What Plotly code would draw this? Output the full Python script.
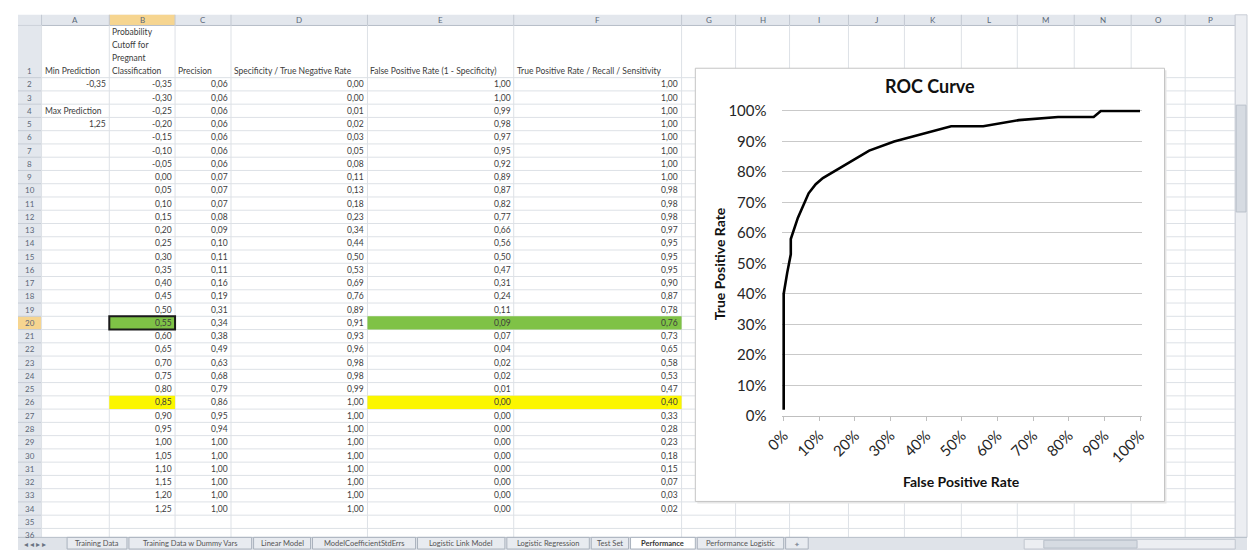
import plotly.graph_objects as go

W, H = 1252, 558

# ---------------- data ----------------
min_prediction = -0.35
max_prediction = 1.25

cutoffs = [-0.35, -0.30, -0.25, -0.20, -0.15, -0.10, -0.05, 0.00, 0.05, 0.10,
           0.15, 0.20, 0.25, 0.30, 0.35, 0.40, 0.45, 0.50, 0.55, 0.60,
           0.65, 0.70, 0.75, 0.80, 0.85, 0.90, 0.95, 1.00, 1.05, 1.10,
           1.15, 1.20, 1.25]
precision = [0.06, 0.06, 0.06, 0.06, 0.06, 0.06, 0.06, 0.07, 0.07, 0.07,
             0.08, 0.09, 0.10, 0.11, 0.11, 0.16, 0.19, 0.31, 0.34, 0.38,
             0.49, 0.63, 0.68, 0.79, 0.86, 0.95, 0.94, 1.00, 1.00, 1.00,
             1.00, 1.00, 1.00]
specificity = [0.00, 0.00, 0.01, 0.02, 0.03, 0.05, 0.08, 0.11, 0.13, 0.18,
               0.23, 0.34, 0.44, 0.50, 0.53, 0.69, 0.76, 0.89, 0.91, 0.93,
               0.96, 0.98, 0.98, 0.99, 1.00, 1.00, 1.00, 1.00, 1.00, 1.00,
               1.00, 1.00, 1.00]
fpr = [1.00, 1.00, 0.99, 0.98, 0.97, 0.95, 0.92, 0.89, 0.87, 0.82,
       0.77, 0.66, 0.56, 0.50, 0.47, 0.31, 0.24, 0.11, 0.09, 0.07,
       0.04, 0.02, 0.02, 0.01, 0.00, 0.00, 0.00, 0.00, 0.00, 0.00,
       0.00, 0.00, 0.00]
tpr = [1.00, 1.00, 1.00, 1.00, 1.00, 1.00, 1.00, 1.00, 0.98, 0.98,
       0.98, 0.97, 0.95, 0.95, 0.95, 0.90, 0.87, 0.78, 0.76, 0.73,
       0.65, 0.58, 0.53, 0.47, 0.40, 0.33, 0.28, 0.23, 0.18, 0.15,
       0.07, 0.03, 0.02]

green_cutoff = 0.55
yellow_cutoff = 0.85

col_letters = ["A", "B", "C", "D", "E", "F", "G", "H", "I", "J", "K", "L", "M", "N", "O", "P"]
header_a = "Min Prediction"
header_a2 = "Max Prediction"
header_b_lines = ["Probability", "Cutoff for", "Pregnant", "Classification"]
header_c = "Precision"
header_d = "Specificity / True Negative Rate"
header_e = "False Positive Rate (1 - Specificity)"
header_f = "True Positive Rate / Recall / Sensitivity"

chart_title = "ROC Curve"
x_title = "False Positive Rate"
y_title = "True Positive Rate"

sheet_tabs = ["Training Data", "Training Data w Dummy Vars", "Linear Model",
              "ModelCoefficientStdErrs", "Logistic Link Model", "Logistic Regression",
              "Test Set", "Performance", "Performance Logistic"]
active_tab = "Performance"

# ---------------- layout geometry (pixels) ----------------
col_edges = [24, 93, 160, 217, 356, 505, 676, 731, 786, 846, 903, 961, 1018, 1076, 1134, 1189, 1240]
tab_edges = [(50, 111), (113, 238), (240, 298), (300, 405), (407, 496), (498, 582),
             (584, 622), (624, 690), (692, 780)]
HDR_TOP, HDR_BOT = 7, 18
ROW1_BOT = 71.7
ROW_H = 13.65
TAB_TOP = 545
GRID_RIGHT = 1240

FONT = "Lato"
TXT = "#3c3c3c"
GRID = "#dde1e6"


def X(x):
    return x / W


def Y(y):
    return 1 - y / H


def row_top(k):
    return ROW1_BOT + (k - 2) * ROW_H


def row_mid(k):
    return row_top(k) + ROW_H / 2


shapes = []
annotations = []


def rect(x0, y0, x1, y1, fill, line=None, lw=0):
    shapes.append(dict(type="rect", xref="paper", yref="paper",
                       x0=X(x0), x1=X(x1), y0=Y(y1), y1=Y(y0),
                       fillcolor=fill, line=dict(color=line if line else fill, width=lw),
                       layer="below"))


def seg(x0, y0, x1, y1, color, lw=1):
    shapes.append(dict(type="line", xref="paper", yref="paper",
                       x0=X(x0), x1=X(x1), y0=Y(y0), y1=Y(y1),
                       line=dict(color=color, width=lw), layer="below"))


def txt(x, y, s, size=8.5, color=TXT, xa="left", ya="middle", bold=False, angle=0):
    annotations.append(dict(x=X(x), y=Y(y), xref="paper", yref="paper",
                            text=f"<b>{s}</b>" if bold else s, showarrow=False,
                            xanchor=xa, yanchor=ya, textangle=angle, borderpad=0,
                            font=dict(family=FONT, size=size, color=color)))


def fmt(v):
    return f"{v:.2f}".replace(".", ",")


# background
rect(0, 0, W, H, "white")
# column header bar
rect(0, HDR_TOP, GRID_RIGHT, HDR_BOT, "#e3e7ed")
rect(col_edges[1], HDR_TOP, col_edges[2], HDR_BOT, "#f6d590")
seg(0, HDR_BOT, GRID_RIGHT, HDR_BOT, "#b7bec8")
for xe in col_edges:
    seg(xe, HDR_TOP, xe, HDR_BOT, "#c3c9d2")
# row header column
rect(0, HDR_BOT, col_edges[0], TAB_TOP, "#e3e7ed")
green_row = cutoffs.index(green_cutoff) + 2
yellow_row = cutoffs.index(yellow_cutoff) + 2
rect(0, row_top(green_row), col_edges[0], row_top(green_row + 1), "#f6d590")

# grid lines
for k in range(2, 37):
    y = row_top(k)
    seg(col_edges[0], y, GRID_RIGHT, y, GRID)
    seg(0, y, col_edges[0], y, "#c7cdd6")
for xe in col_edges:
    seg(xe, HDR_BOT, xe, TAB_TOP, GRID)

# highlighted cells
for (k, color) in [(green_row, "#7fc246"), (yellow_row, "#fbf600")]:
    rect(col_edges[1], row_top(k), col_edges[2], row_top(k + 1), color)
    rect(col_edges[4], row_top(k), col_edges[6], row_top(k + 1), color)
# active cell border
rect(col_edges[1], row_top(green_row), col_edges[2], row_top(green_row + 1),
     "rgba(0,0,0,0)", "#1a1a1a", 2)

# chart area box
rect(692, 64, 1170, 510, "#e6e6e6")
rect(690, 62, 1168, 508, "white", "#c4c4c4", 1)

# vertical scrollbar
rect(1240, HDR_TOP, W, TAB_TOP, "#eceef2", "#c9ced6", 1)
rect(1241, 100, 1251, 210, "#d6dbe2", "#b9c0ca", 1)
# sheet tab bar and horizontal scrollbar
rect(0, TAB_TOP, W, H, "#dfe3e9")
seg(0, TAB_TOP, W, TAB_TOP, "#b7bec8")
rect(1025, 547, 1240, 557, "#eceef2", "#c0c6cf", 1)
rect(1045, 548, 1140, 556, "#d6dbe2", "#b9c0ca", 1)
for (name, (a, b)) in zip(sheet_tabs, tab_edges):
    fill = "white" if name == active_tab else "#e8ebf0"
    rect(a, TAB_TOP, b, 557, fill, "#aab2bd", 1)
    txt((a + b) / 2, 551.5, name, size=7.5, color="#333" if name == active_tab else "#555",
        xa="center", bold=(name == active_tab))
rect(782, TAB_TOP, 805, 557, "#e8ebf0", "#aab2bd", 1)
txt(793.5, 551.5, "✦", size=7, color="#8a93a0", xa="center")
txt(5, 551.5, "◂ ◂ ▸ ▸", size=8, color="#6a7482")

# column letters
for i, letter in enumerate(col_letters):
    txt((col_edges[i] + col_edges[i + 1]) / 2, 12.7, letter, size=8, color="#5b6778", xa="center")
# row numbers
txt(12, 64.5, "1", size=8, color="#5b6778", xa="center")
for k in range(2, 37):
    txt(12, row_mid(k), str(k), size=8, color="#5b6778", xa="center")

# header row
txt(26, 64.5, header_a)
for j, line in enumerate(header_b_lines):
    txt(95, 25 + j * 13.3, line)
txt(162, 64.5, header_c)
txt(219, 64.5, header_d)
txt(358, 64.5, header_e)
txt(507, 64.5, header_f)
# column A values
txt(91, row_mid(2), fmt(min_prediction), xa="right")
txt(26, row_mid(4), header_a2)
txt(91, row_mid(5), fmt(max_prediction), xa="right")

# table body
for i in range(len(cutoffs)):
    k = i + 2
    ym = row_mid(k)
    txt(158, ym, fmt(cutoffs[i]), xa="right")
    txt(215, ym, fmt(precision[i]), xa="right")
    txt(353, ym, fmt(specificity[i]), xa="right")
    txt(503, ym, fmt(fpr[i]), xa="right")
    txt(673, ym, fmt(tpr[i]), xa="right")

# chart texts
txt(929, 80, chart_title, size=18, color="#111", xa="center", bold=True)
txt(961, 487, x_title, size=14, color="#111", xa="center", bold=True)
txt(715, 263, y_title, size=14, color="#111", xa="center", bold=True, angle=-90)

# ---------------- ROC chart ----------------
X0PX, X1PX = 780, 1143
Y0PX, Y1PX = 420, 106
xpad = 0.006
ypad = 0.006
xs = X1PX - X0PX
ys = Y0PX - Y1PX

fig = go.Figure()
fig.add_trace(go.Scatter(x=fpr, y=tpr, mode="lines",
                         line=dict(color="#000000", width=2.6),
                         hoverinfo="skip", showlegend=False))

tickfont = dict(family=FONT, size=15, color="#262626")
fig.update_layout(
    width=W, height=H, autosize=False,
    margin=dict(l=0, r=0, t=0, b=0, pad=0),
    paper_bgcolor="white", plot_bgcolor="rgba(0,0,0,0)",
    showlegend=False,
    shapes=shapes, annotations=annotations,
    xaxis=dict(domain=[X(X0PX - xpad * xs), X(X1PX + xpad * xs)],
               range=[-xpad, 1 + xpad], tick0=0, dtick=0.1, tickformat=".0%",
               tickangle=-45, showgrid=False, zeroline=False,
               showline=True, linecolor="#bfbfbf", linewidth=1,
               ticks="outside", ticklen=4, tickcolor="#bfbfbf",
               tickfont=tickfont, fixedrange=True),
    yaxis=dict(domain=[Y(Y0PX), Y(Y1PX - ypad * ys)],
               range=[0, 1 + ypad], tick0=0, dtick=0.1, tickformat=".0%",
               showgrid=True, gridcolor="#c9c9c9", gridwidth=1,
               zeroline=False, showline=False, ticks="",
               ticklabelstandoff=14, tickfont=tickfont, fixedrange=True),
)

fig.write_html("out.html", config={"displayModeBar": False})
